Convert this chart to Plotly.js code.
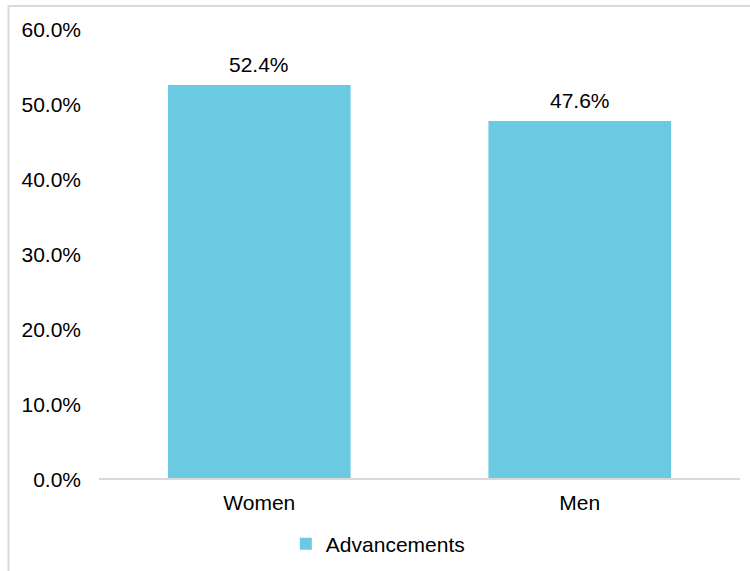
<!DOCTYPE html>
<html>
<head>
<meta charset="utf-8">
<script src="https://cdn.plot.ly/plotly-3.0.1.min.js"></script>
<style>html,body{margin:0;padding:0;background:#fff;}#chart{width:750px;height:571px;}</style>
</head>
<body>
<div id="chart"></div>
<script>
const categories = ["Women", "Men"];
const advancements = [0.524, 0.476];
const seriesName = "Advancements";
const yTickVals = [0, 0.1, 0.2, 0.3, 0.4, 0.5, 0.6];

const FONT = "Liberation Sans, Arial, sans-serif";

const trace = {
  type: "bar",
  x: categories,
  y: advancements,
  name: seriesName,
  marker: {color: "#6BC9E2"},
  hoverinfo: "none"
};

const labels = categories.map((c, i) => ({
  x: c, y: advancements[i], xref: "x", yref: "y",
  text: (advancements[i] * 100).toFixed(1) + "%",
  showarrow: false, yanchor: "bottom", yshift: 7,
  font: {size: 21, color: "#000", family: FONT}
}));

const layout = {
  width: 750, height: 571,
  margin: {l: 99, r: 10, t: 28, b: 93, autoexpand: false},
  paper_bgcolor: "#fff", plot_bgcolor: "#fff",
  font: {family: FONT, size: 21, color: "#000"},
  bargap: 0.43,
  showlegend: true,
  legend: {orientation: "h", x: 0.435, xanchor: "center", y: -0.147, yanchor: "middle",
           font: {size: 21, color: "#000"}, itemwidth: 30},
  xaxis: {showline: true, linecolor: "#d9d9d9", linewidth: 2, ticks: "", showgrid: false,
          zeroline: false, ticklabelstandoff: 5, automargin: false},
  yaxis: {range: [0, 0.6], tickvals: yTickVals, tickformat: ".1%", showgrid: false, automargin: false,
          zeroline: false, showline: false, ticks: "", ticklabelstandoff: 17, ticklabelshift: 2},
  annotations: labels,
  shapes: [{type: "rect", xref: "paper", yref: "paper",
            x0: (8.5 - 99) / 641, x1: 1.1, y0: -0.3, y1: (478.5 - 6.5) / 450,
            line: {color: "#d9d9d9", width: 2}, fillcolor: "rgba(0,0,0,0)", layer: "below"}]
};

Plotly.newPlot("chart", [trace], layout, {staticPlot: true, displayModeBar: false});
</script>
</body>
</html>
